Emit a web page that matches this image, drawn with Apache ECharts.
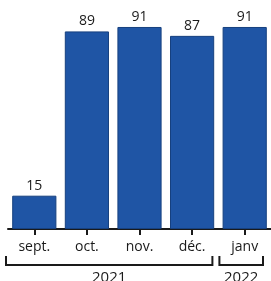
<!DOCTYPE html>
<html><head><meta charset="utf-8">
<script src="https://cdn.jsdelivr.net/npm/echarts@6/dist/echarts.min.js"></script>
<style>html,body{margin:0;padding:0;background:#fff}#c{width:271px;height:281px}</style>
</head><body><div id="c"></div>
<script>
var categories = ['sept.', 'oct.', 'nov.', 'déc.', 'janv'];
var values = [15, 89, 91, 87, 91];
var yearLabels = ['2021', '2022'];
var yearSpans = [[0, 3], [4, 4]];

var font = '"Open Sans", "Noto Sans", sans-serif';
var chart = echarts.init(document.getElementById('c'), null, {renderer: 'canvas'});
chart.setOption({
  animation: false,
  grid: {left: 8, right: 0, top: 7, bottom: 52},
  xAxis: {
    type: 'category', data: categories,
    axisLine: {lineStyle: {color: '#1a1a1a', width: 2}},
    axisTick: {show: true, alignWithLabel: true, length: 6, lineStyle: {color: '#1a1a1a', width: 2}},
    axisLabel: {color: '#1a1a1a', fontSize: 14, fontFamily: font, margin: 11}
  },
  yAxis: {type: 'value', min: 0, max: 100, show: false},
  series: [{
    type: 'bar', data: values, barCategoryGap: '16%',
    itemStyle: {color: '#1f55a5', borderColor: '#16407f', borderWidth: 1},
    label: {show: true, position: 'top', distance: 3, color: '#1a1a1a', fontSize: 14, fontFamily: font}
  }]
});

function drawBrackets() {
  var half = chart.convertToPixel({xAxisIndex: 0}, categories[1]) - chart.convertToPixel({xAxisIndex: 0}, categories[0]);
  half = half / 2;
  var els = [];
  var yLine = 265, yTop = 256;
  yearSpans.forEach(function (s, i) {
    var x0 = chart.convertToPixel({xAxisIndex: 0}, categories[s[0]]) - half;
    var x1 = chart.convertToPixel({xAxisIndex: 0}, categories[s[1]]) + half - 6;
    if (i === 0) x0 -= 2;
    if (i === 1) { x0 += 1; x1 -= 2; }
    els.push({type: 'polyline', shape: {points: [[x0, yTop], [x0, yLine], [x1, yLine], [x1, yTop]]},
      style: {stroke: '#1a1a1a', lineWidth: 2, fill: null}});
    els.push({type: 'text', x: (x0 + x1) / 2, y: 278,
      style: {text: yearLabels[i], fill: '#1a1a1a', font: '15px ' + font, textAlign: 'center', textVerticalAlign: 'middle'}});
  });
  chart.setOption({graphic: els});
}
drawBrackets();
</script></body></html>
